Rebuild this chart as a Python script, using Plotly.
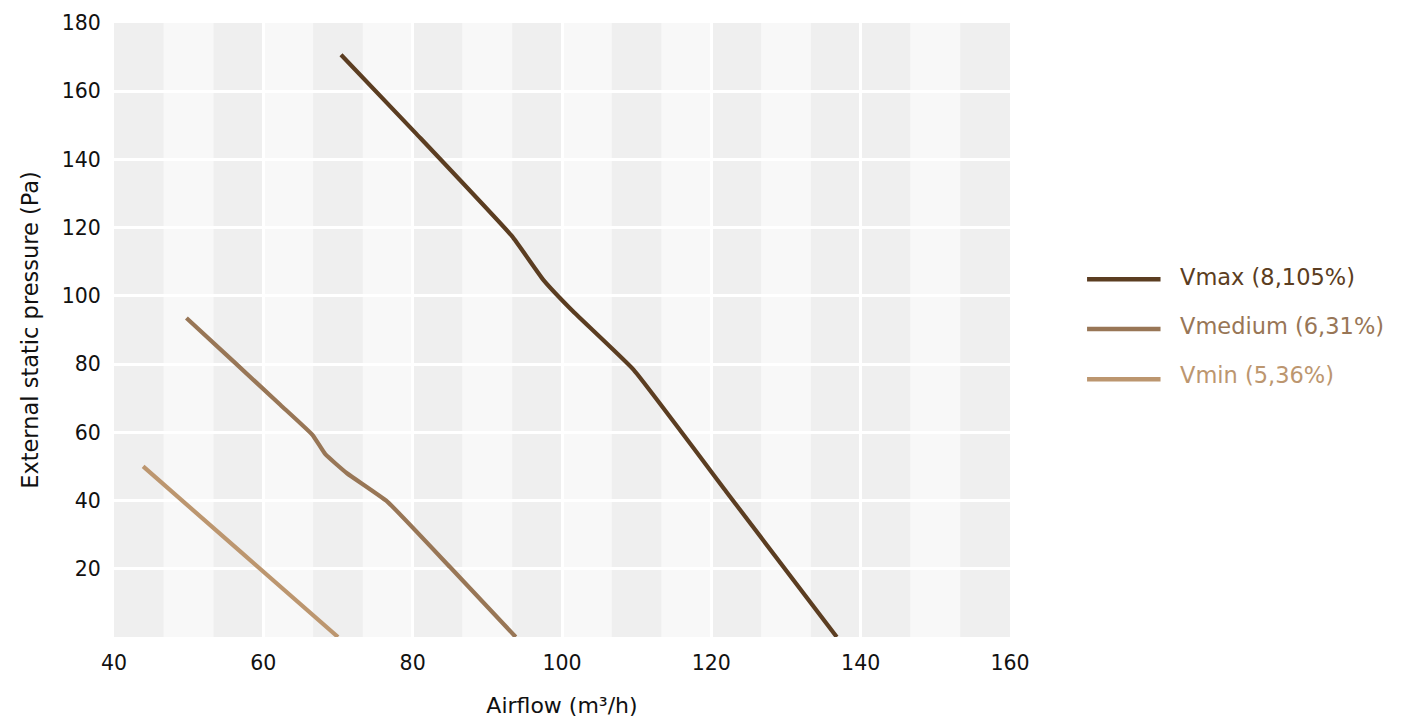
import plotly.graph_objects as go
import numpy as np

# ---- data ----
vmax_x = [70.4, 80.5, 93.3, 97.5, 101.5, 109.6, 122.0, 136.8]
vmax_y = [170.7, 147.5, 117.5, 104.7, 95.4, 78.3, 42.6, 0.0]

vmed_x = [49.7, 56.0, 62.3, 66.6, 68.3, 71.2, 76.6, 85.0, 93.8]
vmed_y = [93.5, 80.8, 68.0, 59.2, 53.6, 48.0, 39.7, 20.5, 0.0]

vmin_x = [43.9, 56.9, 70.0]
vmin_y = [50.0, 25.1, 0.0]

series_names = ["Vmax (8,105%)", "Vmedium (6,31%)", "Vmin (5,36%)"]
series_colors = ["#5b3d21", "#987656", "#bc966f"]

x_ticks = [40, 60, 80, 100, 120, 140, 160]
y_ticks = [20, 40, 60, 80, 100, 120, 140, 160, 180]

X_RANGE = [40, 160]
Y_RANGE = [0, 180]

FONT = "DejaVu Sans, Liberation Sans, Arial, sans-serif"

fig = go.Figure()

# background bands (18 equal vertical strips)
edges = np.linspace(X_RANGE[0], X_RANGE[1], 19)
dark_idx = {0, 2, 4, 6, 8, 10, 12, 14, 15, 17}
for i in range(18):
    fig.add_shape(type="rect", xref="x", yref="y",
                  x0=edges[i], x1=edges[i + 1], y0=Y_RANGE[0], y1=Y_RANGE[1],
                  fillcolor="#efefef" if i in dark_idx else "#f8f8f8",
                  line=dict(width=0), layer="below")

for xs, ys, name, col in zip([vmax_x, vmed_x, vmin_x], [vmax_y, vmed_y, vmin_y],
                             series_names, series_colors):
    fig.add_trace(go.Scatter(x=xs, y=ys, mode="lines", name=name,
                             line=dict(color=col, width=4.2, shape="spline", smoothing=0.35),
                             showlegend=False, hoverinfo="x+y+name"))

# custom legend (long line samples, coloured text)
leg_line_y = [0.5826, 0.5016, 0.4197]
leg_text_y = [0.5868, 0.5065, 0.4267]
for name, col, ly, ty in zip(series_names, series_colors, leg_line_y, leg_text_y):
    fig.add_shape(type="line", xref="paper", yref="paper",
                  x0=1.086, x1=1.168, y0=ly, y1=ly,
                  line=dict(color=col, width=4.5))
    fig.add_annotation(xref="paper", yref="paper", x=1.1875, y=ty,
                       text=name, showarrow=False, xanchor="left", yanchor="middle",
                       font=dict(family=FONT, size=22.5, color=col))

fig.update_layout(
    width=1402, height=722,
    margin=dict(l=106, r=400, t=15, b=93),
    paper_bgcolor="white", plot_bgcolor="#f8f8f8",
    font=dict(family=FONT, size=20, color="#111111"),
    showlegend=False,
)

fig.update_xaxes(
    range=X_RANGE, tickvals=x_ticks, ticktext=[str(v) for v in x_ticks],
    showgrid=True, gridcolor="white", gridwidth=2.5,
    zeroline=False, showline=False,
    ticks="outside", ticklen=7, tickcolor="rgba(0,0,0,0)",
    tickfont=dict(family=FONT, size=20.5, color="#111111"),
    title=dict(text="Airflow (m³/h)", standoff=24,
               font=dict(family=FONT, size=22, color="#111111")),
    automargin=False,
)
fig.update_yaxes(
    range=Y_RANGE, tickvals=y_ticks, ticktext=[str(v) for v in y_ticks],
    showgrid=True, gridcolor="white", gridwidth=2.5,
    zeroline=False, showline=False,
    ticks="outside", ticklen=8, tickcolor="rgba(0,0,0,0)",
    tickfont=dict(family=FONT, size=20.5, color="#111111"),
    title=dict(text="External static pressure (Pa)", standoff=16,
               font=dict(family=FONT, size=22.5, color="#111111")),
    automargin=False,
)

fig.write_html("out.html")
